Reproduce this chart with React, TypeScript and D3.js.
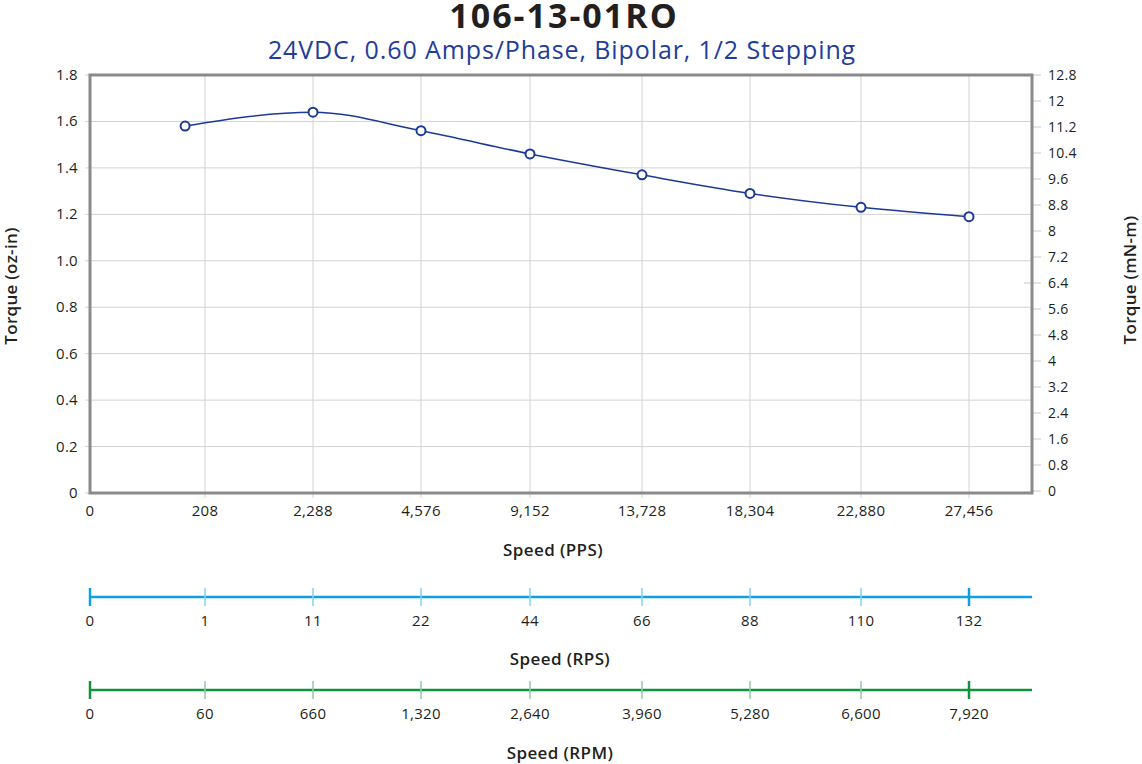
import * as d3 from "d3";

const ppsTicks = [0, 208, 2288, 4576, 9152, 13728, 18304, 22880, 27456];
const rpsTicks = ["0", "1", "11", "22", "44", "66", "88", "110", "132"];
const rpmTicks = ["0", "60", "660", "1,320", "2,640", "3,960", "5,280", "6,600", "7,920"];
const leftTicks = [0, 0.2, 0.4, 0.6, 0.8, 1.0, 1.2, 1.4, 1.6, 1.8];
const rightTicks = [0, 0.8, 1.6, 2.4, 3.2, 4, 4.8, 5.6, 6.4, 7.2, 8, 8.8, 9.6, 10.4, 11.2, 12, 12.8];

const speedPps = [172, 2288, 4576, 9152, 13728, 18304, 22880, 27456];
const torqueOzIn = [1.58, 1.64, 1.56, 1.46, 1.37, 1.29, 1.23, 1.19];

const W = 1142;
const H = 764;
const left = 90;
const right = 1032;
const top = 75;
const bottom = 493;
// pixel spots of the speed ticks (the printed axis is categorical, not linear)
const tickPx = [90, 205, 313, 421, 530, 642, 750, 861, 969];
const font = "'Open Sans', 'Noto Sans', sans-serif";
const ink = "#231f20";
const navy = "#1b3a94";
const blue = "#0ea0e4";
const green = "#13923c";

export default function App() {
  const x = d3.scaleLinear().domain(ppsTicks).range(tickPx);
  const y = d3.scaleLinear().domain([0, 1.8]).range([bottom, top]);
  const y2 = d3.scaleLinear().domain([0, 12.8]).range([491, top]);

  const pts = speedPps.map((s, i) => ({ s, t: torqueOzIn[i] }));
  const line = d3
    .line<{ s: number; t: number }>()
    .x((d) => x(d.s))
    .y((d) => y(d.t))
    .curve(d3.curveMonotoneX);

  const fmt = d3.format(",");

  const speedAxis = (yy: number, color: string, light: string, labels: string[], title: string, titleY: number) => (
    <g>
      <line x1={left} x2={right} y1={yy} y2={yy} stroke={color} strokeWidth={2.5} />
      {ppsTicks.map((v, i) => {
        const end = i === 0 || i === ppsTicks.length - 1;
        return (
          <line
            key={"t" + i}
            x1={x(v)}
            x2={x(v)}
            y1={yy - 9}
            y2={yy + 9}
            stroke={end ? color : light}
            strokeWidth={end ? 2.5 : 1.5}
          />
        );
      })}
      {ppsTicks.map((v, i) => (
        <text key={"l" + i} x={x(v)} y={yy + 29} textAnchor="middle" fontSize={15} letterSpacing={0.3} fill={ink}>
          {labels[i]}
        </text>
      ))}
      <text x={560} y={titleY} textAnchor="middle" fontSize={17} letterSpacing={0.4} fontWeight={600} fill={ink}>
        {title}
      </text>
    </g>
  );

  return (
    <svg
      width={W}
      height={H}
      style={{ position: "absolute", left: 0, top: 0, fontFamily: font }}
    >
      <rect width={W} height={H} fill="#fff" />
      <text x={564} y={28} textAnchor="middle" fontSize={34} letterSpacing={2} fontWeight="bold" fill={ink}>
        106-13-01RO
      </text>
      <text x={562} y={59} textAnchor="middle" fontSize={25} letterSpacing={0.9} fill="#1f3d99">
        24VDC, 0.60 Amps/Phase, Bipolar, 1/2 Stepping
      </text>

      {/* grid */}
      {leftTicks.map((v) => (
        <line key={"gy" + v} x1={left - 5} x2={right} y1={y(v)} y2={y(v)} stroke="#d2d2d2" strokeWidth={1} />
      ))}
      {ppsTicks.slice(1).map((v) => (
        <line key={"gx" + v} x1={x(v)} x2={x(v)} y1={top} y2={bottom + 5} stroke="#d2d2d2" strokeWidth={1} />
      ))}
      {rightTicks.map((v) => (
        <line
          key={"rt" + v}
          x1={v === 6.4 ? right - 8 : right}
          x2={right + 9}
          y1={y2(v)}
          y2={y2(v)}
          stroke="#c8c8c8"
          strokeWidth={1}
        />
      ))}
      <rect x={left} y={top} width={right - left} height={bottom - top} fill="none" stroke="#8a8a8a" strokeWidth={3} />

      {/* axis labels */}
      {leftTicks.map((v) => (
        <text key={"yl" + v} x={78} y={y(v) + 5} textAnchor="end" fontSize={15} letterSpacing={0.3} fill={ink}>
          {v === 0 ? "0" : v.toFixed(1)}
        </text>
      ))}
      {rightTicks.map((v) => (
        <text key={"yr" + v} x={1048} y={y2(v) + 5} textAnchor="start" fontSize={14} letterSpacing={0.3} fill={ink}>
          {String(v)}
        </text>
      ))}
      {ppsTicks.map((v) => (
        <text key={"xl" + v} x={x(v)} y={516} textAnchor="middle" fontSize={15} letterSpacing={0.3} fill={ink}>
          {fmt(v)}
        </text>
      ))}

      <text transform="translate(17,286) rotate(-90)" textAnchor="middle" fontSize={17} letterSpacing={0.3} fontWeight={600} fill={ink}>
        Torque (oz-in)
      </text>
      <text transform="translate(1136,280) rotate(-90)" textAnchor="middle" fontSize={17} letterSpacing={0.3} fontWeight={600} fill={ink}>
        Torque (mN-m)
      </text>
      <text x={553} y={556} textAnchor="middle" fontSize={17} letterSpacing={0.4} fontWeight={600} fill={ink}>
        Speed (PPS)
      </text>

      {/* curve */}
      <path d={line(pts) || ""} fill="none" stroke={navy} strokeWidth={1.5} />
      {pts.map((d) => (
        <circle key={"p" + d.s} cx={x(d.s)} cy={y(d.t)} r={4.5} fill="#fff" stroke={navy} strokeWidth={2} />
      ))}

      {speedAxis(597, blue, "#86d0f3", rpsTicks, "Speed (RPS)", 665)}
      {speedAxis(690, green, "#8dcc9f", rpmTicks, "Speed (RPM)", 759)}
    </svg>
  );
}
